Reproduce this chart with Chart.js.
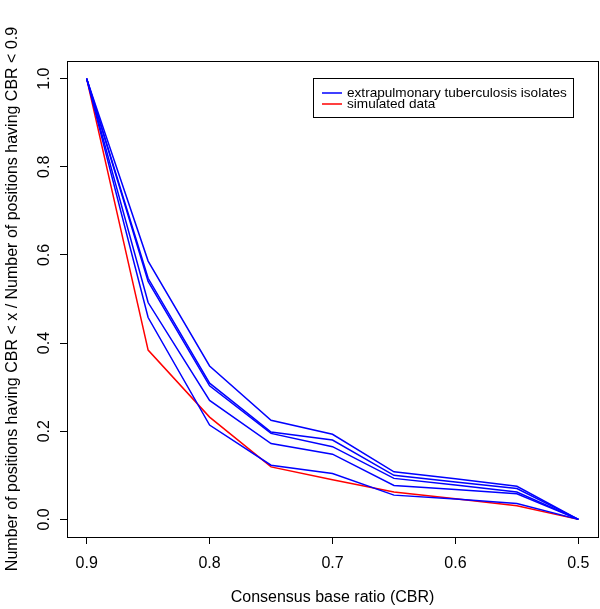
<!DOCTYPE html>
<html>
<head>
<meta charset="utf-8">
<script src="https://cdn.jsdelivr.net/npm/chart.js@4.4.1/dist/chart.umd.min.js"></script>
<style>
    html, body { margin: 0; padding: 0; background: #ffffff; }
    #wrap { width: 600px; height: 609px; }
</style>
</head>
<body>
<div id="wrap"><canvas id="cbrChart" width="600" height="609"></canvas></div>
<script>
// Consensus base ratio curves
const cbr = [0.9, 0.85, 0.8, 0.75, 0.7, 0.65, 0.6, 0.55, 0.5];
const isolate1 = [1.0, 0.586, 0.348, 0.225, 0.193, 0.108, 0.092, 0.075, 0.0];
const isolate2 = [1.0, 0.547, 0.309, 0.198, 0.180, 0.100, 0.085, 0.070, 0.0];
const isolate3 = [1.0, 0.540, 0.303, 0.195, 0.165, 0.093, 0.078, 0.062, 0.0];
const isolate4 = [1.0, 0.492, 0.270, 0.172, 0.148, 0.077, 0.068, 0.058, 0.0];
const isolate5 = [1.0, 0.458, 0.214, 0.123, 0.104, 0.055, 0.046, 0.036, 0.0];
const simulated = [1.0, 0.384, 0.232, 0.119, 0.090, 0.062, 0.047, 0.031, 0.0];
const xTicks = [0.9, 0.8, 0.7, 0.6, 0.5];
const yTicks = [0.0, 0.2, 0.4, 0.6, 0.8, 1.0];

const FONT = "'Liberation Sans', Arial, Helvetica, sans-serif";
const BLUE = '#0000ff';
const RED = '#ff0000';

function toPoints(values) {
    return values.map((v, i) => ({ x: cbr[i], y: v }));
}

function lineSet(label, values, color) {
    return {
        label: label,
        data: toPoints(values),
        borderColor: color,
        backgroundColor: color,
        borderWidth: 1.5,
        pointRadius: 0,
        tension: 0,
        fill: false
    };
}

const blueLabel = 'extrapulmonary tuberculosis isolates';
const datasets = [
    lineSet(blueLabel, isolate1, BLUE),
    lineSet(blueLabel, isolate2, BLUE),
    lineSet(blueLabel, isolate3, BLUE),
    lineSet(blueLabel, isolate4, BLUE),
    lineSet(blueLabel, isolate5, BLUE),
    lineSet('simulated data', simulated, RED)
];

// box around the plot region, R style
const boxPlugin = {
    id: 'plotBox',
    afterDraw(chart) {
        const { ctx, chartArea } = chart;
        ctx.save();
        ctx.strokeStyle = '#000000';
        ctx.lineWidth = 1;
        ctx.strokeRect(Math.round(chartArea.left) + 0.5, Math.round(chartArea.top) + 0.5,
            Math.round(chartArea.right - chartArea.left), Math.round(chartArea.bottom - chartArea.top));
        ctx.restore();
    }
};

// vertical y tick labels
const yLabelPlugin = {
    id: 'yLabels',
    afterDraw(chart) {
        const { ctx } = chart;
        const scale = chart.scales.y;
        ctx.save();
        ctx.fillStyle = '#000000';
        ctx.font = '16px ' + FONT;
        ctx.textAlign = 'center';
        ctx.textBaseline = 'middle';
        scale.ticks.forEach(t => {
            const py = scale.getPixelForValue(t.value);
            ctx.save();
            ctx.translate(45, py);
            ctx.rotate(-Math.PI / 2);
            ctx.fillText(t.value.toFixed(1), 0, 0);
            ctx.restore();
        });
        ctx.restore();
    }
};

// legend box in the top right corner
const legendPlugin = {
    id: 'boxLegend',
    afterDraw(chart) {
        const { ctx, chartArea } = chart;
        const entries = [
            { text: blueLabel, color: BLUE },
            { text: 'simulated data', color: RED }
        ];
        const right = chartArea.right - 25;
        const left = right - 260;
        const top = chartArea.top + 17;
        ctx.save();
        ctx.fillStyle = '#ffffff';
        ctx.fillRect(left, top, right - left, 39);
        ctx.strokeStyle = '#000000';
        ctx.lineWidth = 1;
        ctx.strokeRect(Math.round(left) + 0.5, Math.round(top) + 0.5, right - left, 39);
        ctx.font = '13.6px ' + FONT;
        ctx.textBaseline = 'middle';
        entries.forEach((e, i) => {
            const y = top + 15 + i * 11;
            ctx.strokeStyle = e.color;
            ctx.lineWidth = 1.5;
            ctx.beginPath();
            ctx.moveTo(left + 9, y);
            ctx.lineTo(left + 29, y);
            ctx.stroke();
            ctx.fillStyle = '#000000';
            ctx.fillText(e.text, left + 34, y);
        });
        ctx.restore();
    }
};

new Chart(document.getElementById('cbrChart'), {
    type: 'line',
    data: { datasets: datasets },
    plugins: [boxPlugin, yLabelPlugin, legendPlugin],
    options: {
        responsive: false,
        animation: false,
        layout: { padding: { top: 61, right: 2, left: 0, bottom: 0 } },
        plugins: {
            legend: { display: false },
            tooltip: { enabled: false }
        },
        scales: {
            x: {
                type: 'linear',
                reverse: true,
                min: 0.484,
                max: 0.916,
                afterBuildTicks: (scale) => { scale.ticks = xTicks.map(v => ({ value: v })); },
                afterFit: (scale) => { scale.height = 72; },
                border: { display: false },
                grid: { display: true, drawOnChartArea: false, drawTicks: true, tickLength: 7, color: '#000000', lineWidth: 1 },
                ticks: {
                    color: '#000000',
                    padding: 10,
                    maxRotation: 0,
                    font: { family: FONT, size: 16 },
                    callback: (v) => Number(v).toFixed(1)
                },
                title: {
                    display: true,
                    text: 'Consensus base ratio (CBR)',
                    color: '#000000',
                    font: { family: FONT, size: 16 },
                    padding: { top: 0, bottom: 2 }
                }
            },
            y: {
                type: 'linear',
                min: -0.04,
                max: 1.04,
                afterBuildTicks: (scale) => { scale.ticks = yTicks.map(v => ({ value: v })); },
                afterFit: (scale) => { scale.width = 67; },
                border: { display: false },
                grid: { display: true, drawOnChartArea: false, drawTicks: true, tickLength: 7, color: '#000000', lineWidth: 1 },
                ticks: { display: false },
                title: {
                    display: true,
                    text: 'Number of positions having CBR < x / Number of positions having CBR < 0.9',
                    color: '#000000',
                    font: { family: FONT, size: 16 },
                    padding: { top: 3, bottom: 0 }
                }
            }
        }
    }
});
</script>
</body>
</html>
